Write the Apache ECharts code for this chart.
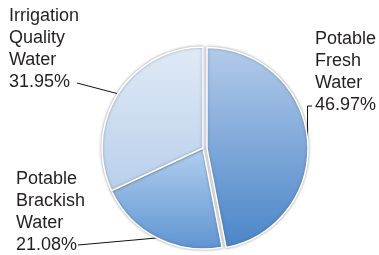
<!DOCTYPE html>
<html lang="en">
<head>
<meta charset="UTF-8">
<title>Water quality share</title>
<script src="https://cdn.jsdelivr.net/npm/echarts@6/dist/echarts.min.js"></script>
<style>
    html, body { margin: 0; padding: 0; background: #fff; }
</style>
</head>
<body>
<div id="container" style="width: 379px; height: 255px;"></div>
<script type="text/javascript">
    // categories + shares (%)
    var categories = ['Potable Fresh Water', 'Potable Brackish Water', 'Irrigation Quality Water'];
    var shares = [46.97, 21.08, 31.95];

    // slice gradients, top -> bottom
    var sliceTop = ['#b3cbea', '#b2cfef', '#e0eaf6'];
    var sliceBottom = ['#4a85c8', '#5f94d1', '#b9cfeb'];

    // where each label sits (top-left corner) and where its leader line ends
    var labelSpots = [[315, 28], [16, 168], [9, 5]];
    var lineEnds = [[312, 106], [78, 245], [77, 83]];

    var dom = document.getElementById('container');
    var myChart = echarts.init(dom, null, { renderer: 'canvas' });

    // the fresh-water slice is pulled out a little, so it gets its own pie;
    // each pie keeps every value so the angles line up, the others are left blank
    function buildData(visible) {
        return categories.map(function (name, i) {
            if (!visible[i]) {
                return {
                    name: name,
                    value: shares[i],
                    itemStyle: { color: 'rgba(0,0,0,0)', borderWidth: 0, shadowBlur: 0 },
                    label: { show: false },
                    labelLine: { show: false }
                };
            }
            return {
                name: name,
                value: shares[i],
                itemStyle: {
                    color: new echarts.graphic.LinearGradient(0, 0, 0, 1, [
                        { offset: 0, color: sliceTop[i] },
                        { offset: 1, color: sliceBottom[i] }
                    ])
                }
            };
        });
    }

    function pieSeries(center, visible) {
        return {
            type: 'pie',
            center: center,
            radius: 101,
            startAngle: 90,
            silent: true,
            data: buildData(visible),
            itemStyle: {
                borderColor: '#ffffff',
                borderWidth: 1.5,
                shadowBlur: 3,
                shadowColor: 'rgba(60,60,70,0.45)'
            },
            emphasis: { disabled: true },
            label: {
                show: true,
                position: 'outside',
                overflow: 'none',
                color: '#231f20',
                fontFamily: 'Liberation Sans, Arial, sans-serif',
                fontSize: 18,
                lineHeight: 22,
                formatter: function (p) {
                    return p.name.split(' ').join('\n') + '\n' + p.value.toFixed(2) + '%';
                }
            },
            labelLine: {
                show: true,
                length: 6,
                length2: 6,
                lineStyle: { color: '#111', width: 1 }
            },
            labelLayout: function (params) {
                var i = params.dataIndex;
                var s = labelSpots[i];
                var e = lineEnds[i];
                var out = { x: s[0], y: s[1], align: 'left', verticalAlign: 'top' };
                var pts = params.labelLinePoints;
                if (pts && pts.length) {
                    var p0 = pts[0];
                    if (i === 0) {
                        // straight up from the slice, then a short tick to the text
                        out.labelLinePoints = [[p0[0], p0[1]], [p0[0], e[1]], [e[0], e[1]]];
                    } else {
                        out.labelLinePoints = [[p0[0], p0[1]], [e[0], e[1]]];
                    }
                }
                return out;
            }
        };
    }

    var option = {
        animation: false,
        series: [
            pieSeries([203, 148], [false, true, true]),
            pieSeries([207, 148.4], [true, false, false])
        ]
    };
    myChart.setOption(option);
    window.addEventListener('resize', myChart.resize);
</script>
</body>
</html>
